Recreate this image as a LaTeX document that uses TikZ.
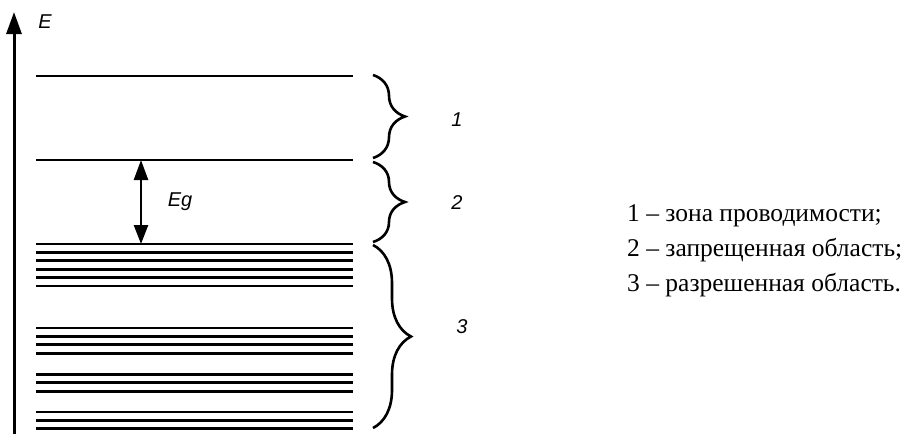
\documentclass[tikz,border=0pt]{standalone}
\usepackage{fontspec}
\setmainfont{Liberation Serif}
\newfontfamily\arialf{Liberation Sans}
\usetikzlibrary{arrows.meta,decorations.pathreplacing}
\tikzset{
  level/.style={line width=2.7pt},
  bracestyle/.style={line width=2.6pt, decorate, decoration={brace, amplitude=32pt}},
  lbl/.style={font=\arialf\itshape\fontsize{20}{24}\selectfont, inner sep=0pt},
  legend/.style={font=\fontsize{25.5}{30}\selectfont, anchor=west, inner sep=0pt},
}
\begin{document}
\begin{tikzpicture}[x=1pt,y=-1pt]
\useasboundingbox (0,0) rectangle (920,434);
% axis
\coordinate (ax0) at (14,434);
\coordinate (ax1) at (14,12);
\draw[line width=3pt, -{Triangle[length=22pt,width=15pt]}] (ax0) -- (ax1);
\node[lbl] (E) at (45,22) {E};
% levels
\foreach \y/\n in {76/c1,160/c2,244/v1,252.4/v2,260.8/v3,269.2/v4,277.6/v5,286/v6,328/a1,336.4/a2,344.8/a3,353.2/a4,374.4/b1,382.8/b2,391.2/b3,412/d1,420.4/d2,428.8/d3}{
  \draw[level] (36,\y) coordinate (\n L) -- (353,\y) coordinate (\n R);
}
% Eg arrow
\coordinate (egT) at (141,160);
\coordinate (egB) at (141,244);
\draw[line width=2.5pt, {Triangle[length=20pt,width=14pt]}-{Triangle[length=19pt,width=14pt]}] (egT) -- (egB);
\node[lbl] (Eg) at (180,202) {Eg};
% braces
\coordinate (b1t) at (373,75);
\coordinate (b1b) at (373,158);
\coordinate (b2t) at (373,162);
\coordinate (b2b) at (373,242);
\coordinate (b3t) at (373,245);
\coordinate (b3b) at (373,428);
\draw[bracestyle] (b1t) -- (b1b);
\draw[bracestyle] (b2t) -- (b2b);
\draw[bracestyle, decoration={amplitude=38pt}] (b3t) -- (b3b);
\node[lbl] (n1) at (457,120) {1};
\node[lbl] (n2) at (457,203) {2};
\node[lbl] (n3) at (462,327) {3};
% legend
\node[legend] (l1) at (627,216) {1 – зона проводимости;};
\node[legend] (l2) at (627,250) {2 – запрещенная область;};
\node[legend] (l3) at (627,285) {3 – разрешенная область.};
\end{tikzpicture}
\end{document}
